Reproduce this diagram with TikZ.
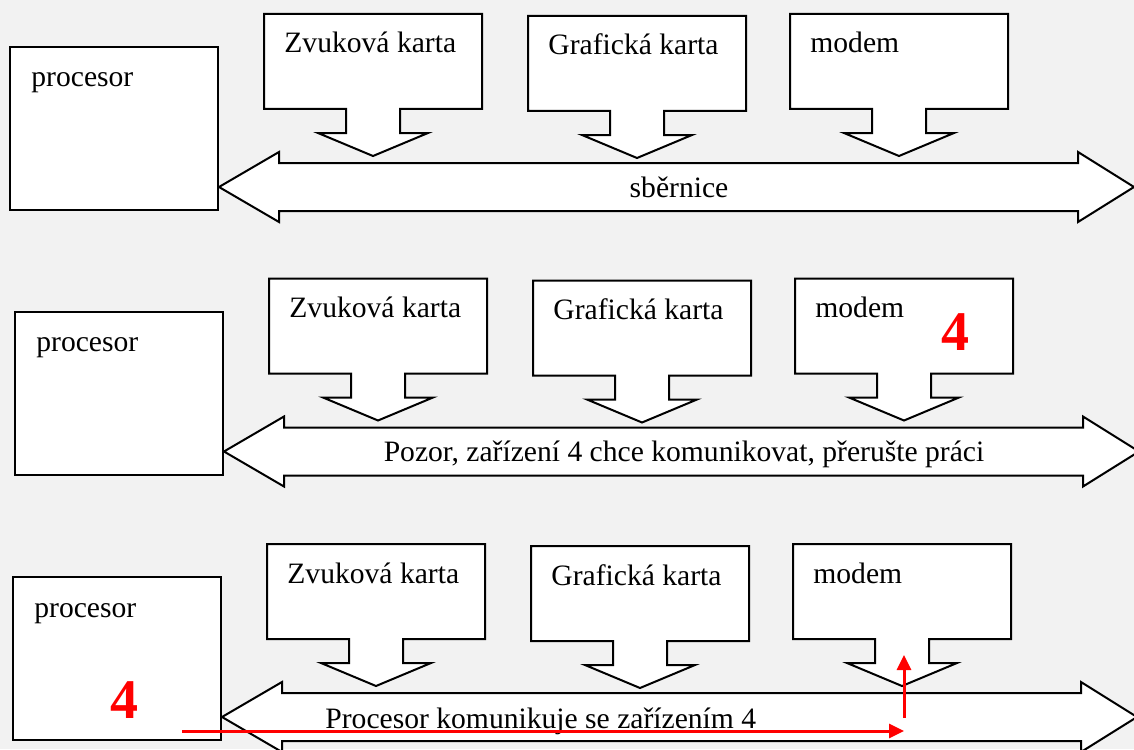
\documentclass[tikz,border=0pt]{standalone}
\usepackage{fontspec}
\setmainfont{Liberation Serif}
\usetikzlibrary{arrows.meta}
\definecolor{pagegray}{RGB}{242,242,242}
\tikzset{
	blockpart/.style={draw=black, fill=white, line width=1pt, line join=miter},
	cardtext/.style={anchor=base west, inner sep=0pt, font=\fontsize{14.8}{17}\selectfont},
	bustext/.style={anchor=base, inner sep=0pt, font=\fontsize{14.8}{17}\selectfont},
	redfour/.style={text=red, inner sep=0pt, font=\fontsize{28}{30}\selectfont\bfseries},
	signal/.style={draw=red, line width=1.5pt, -{Triangle[length=7.5pt, width=7pt]}}
}
\begin{document}
\begin{tikzpicture}[x=0.5pt, y=-0.5pt]
	\fill[pagegray, use as bounding box] (0,0) rectangle (1134,749);
	\clip (0,0) rectangle (1134,749);
	
	\foreach \p/\dx/\dy in {1/0/0, 2/5/264.5, 3/3/530} {
		\begin{scope}[shift={(\dx,\dy)}]
		\draw[blockpart] (10,47) rectangle (218,210);
		\node[cardtext] (cpu\p) at (31,87) {procesor};
		\draw[blockpart] (219,187)--(279,152)--(279,163)--(1078,163)--(1078,152)--(1134,187)
			--(1078,222)--(1078,211)--(279,211)--(279,222)--cycle;
		\foreach \cx/\cy/\nm/\txt in {264/14/zvuk/Zvuková karta, 528/16/graf/Grafická karta, 790/14/modem/modem} {
			\draw[blockpart] (\cx,\cy)--++(218,0)--++(0,95)--++(-82,0)--++(0,24)--++(28,0)
				--++(-55,23)--++(-55,-23)--++(28,0)--++(0,-24)--++(-82,0)--cycle;
			\node[cardtext] (\nm\p) at (\cx+20,\cy+39) {\txt};
		}
		\end{scope}
	}
	
	\node[bustext] (msg1) at (679,197) {sběrnice};
	\node[bustext] (msg2) at (684,461.5) {Pozor, zařízení 4 chce komunikovat, přerušte práci};
	\node[cardtext] (msg3) at (325,728) {Procesor komunikuje se zařízením 4};
	
	\node[redfour] (dev4) at (955.5,332) {4};
	\node[redfour] (cpu4) at (124.5,700.5) {4};
	
	\coordinate (sigstart) at (182,731);
	\coordinate (sigend) at (904,731);
	\coordinate (sigbase) at (904,718);
	\coordinate (sigup) at (904,655);
	\draw[signal] (sigstart)--(sigend);
	\draw[signal] (sigbase)--(sigup);
	
\end{tikzpicture}
\end{document}
